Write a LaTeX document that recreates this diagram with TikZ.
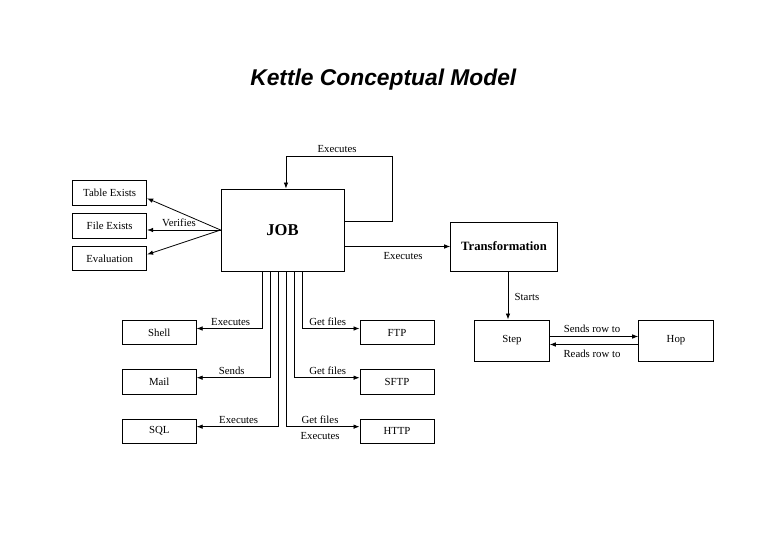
\documentclass[tikz,border=0pt]{standalone}
\usepackage{fontspec}
\setmainfont{Liberation Serif}
\newfontfamily\headfont{Liberation Sans}
\usepackage{tikz}
\usetikzlibrary{arrows.meta}
\tikzstyle{box}=[draw, line width=0.6pt, minimum width=55.5pt, minimum height=18.4pt, inner sep=1pt, font=\fontsize{8.1}{9}\selectfont]
\tikzstyle{bigbox}=[box, font=\fontsize{9.5}{11}\selectfont\bfseries]
\tikzstyle{lbl}=[inner sep=0pt, font=\fontsize{8.1}{9}\selectfont]
\tikzstyle{arrow}=[draw=black, line width=0.6pt, ->, >={Latex[length=1.6mm, width=1.2mm]}]

\begin{document}
\begin{tikzpicture}[x=0.75pt, y=-0.75pt]
		\useasboundingbox (0,0) rectangle (768,542);
		\begin{scope}
			\node (title) at (383.3,79.5) {\headfont\bfseries\itshape\fontsize{17.1}{20}\selectfont Kettle Conceptual Model};
			\node (job) at (282.5,230)[bigbox, minimum width=92.25pt, minimum height=61.5pt, font=\fontsize{12.4}{14}\selectfont\bfseries] {JOB};
			\node (tabex) at (109.7,193)[box] {Table Exists};
			\node (filex) at (109.7,225.8)[box] {File Exists};
			\node (eval) at (109.7,258.5)[box] {Evaluation};
			\node (trans) at (504,246.5)[bigbox, minimum width=80pt, minimum height=36.75pt] {Transformation};
			\node (step) at (512,340.5)[box, minimum width=56pt, minimum height=30.75pt] {Step};
			\node (hop) at (676,340.5)[box, minimum width=56pt, minimum height=30.75pt] {Hop};
			\node (shell) at (159.2,332.5)[box] {Shell};
			\node (mail) at (159.2,381.7)[box] {Mail};
			\node (sql) at (159.2,431.2)[box] {SQL};
			\node (ftp) at (397,332.5)[box] {FTP};
			\node (sftp) at (397,381.7)[box] {SFTP};
			\node (http) at (397,431.2)[box] {HTTP};
			\coordinate (loopr) at (392.7,156);
		\end{scope}
		\begin{scope}
			% labels
			\node (lloop) at (337,149)[lbl] {Executes};
			\node (lver) at (179,223.2)[lbl] {Verifies};
			\node (ltrans) at (403,256)[lbl] {Executes};
			\node (lstart) at (527,297)[lbl] {Starts};
			\node (lsend) at (592,329)[lbl] {Sends row to};
			\node (lread) at (592,354)[lbl] {Reads row to};
			\node (lshell) at (230.7,321.7)[lbl] {Executes};
			\node (lmail) at (231.7,370.7)[lbl] {Sends};
			\node (lsql) at (238.7,420)[lbl] {Executes};
			\node (lftp) at (327.7,321.7)[lbl] {Get files};
			\node (lsftp) at (327.7,370.7)[lbl] {Get files};
			\node (lhttp) at (320,420)[lbl] {Get files};
			\node (lhttpb) at (320,436)[lbl] {Executes};
		\end{scope}
		\begin{scope}
			\path [arrow] ([yshift=6.2pt]job.east) -| (loopr) -| ([xshift=2.6pt]job.north);
			\path [arrow] (job.west) -- ([yshift=-4pt]tabex.east);
			\path [arrow] (job.west) -- (job.west -| filex.east);
			\path [arrow] (job.west) -- ([yshift=3pt]eval.east);
			\path [arrow] (job.east |- trans.west) -- (trans.west);
			\path [arrow] ([xshift=3pt]trans.south) -- ([xshift=3pt]trans.south |- step.north);
			\path [arrow] ([yshift=3pt]step.east) -- ([yshift=3pt]hop.west);
			\path [arrow] ([yshift=-3pt]hop.west) -- ([yshift=-3pt]step.east);
			\path [arrow] ([xshift=-15.4pt]job.south) |- ([yshift=3pt]shell.east);
			\path [arrow] ([xshift=-9.4pt]job.south) |- ([yshift=3pt]mail.east);
			\path [arrow] ([xshift=-3.4pt]job.south) |- ([yshift=3.4pt]sql.east);
			\path [arrow] ([xshift=2.6pt]job.south) |- ([yshift=3.4pt]http.west);
			\path [arrow] ([xshift=8.6pt]job.south) |- ([yshift=3pt]sftp.west);
			\path [arrow] ([xshift=15.2pt]job.south) |- ([yshift=3pt]ftp.west);
		\end{scope}
	\end{tikzpicture}
\end{document}
